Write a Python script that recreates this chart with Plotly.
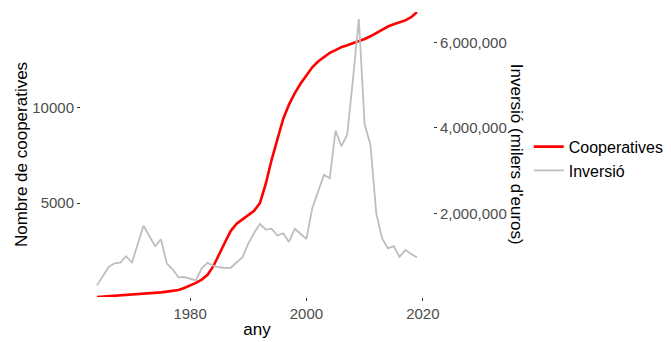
import plotly.graph_objects as go

years = list(range(1964, 2020))

cooperatives = [
    90, 110, 130, 150, 175, 200, 220, 240, 260, 280,
    300, 330, 370, 400, 460, 560, 680, 830, 1000, 1250,
    1700, 2350, 2950, 3550, 3920, 4150, 4380, 4600, 5000, 6000,
    7250, 8400, 9400, 10150, 10750, 11250, 11650, 12100, 12400, 12650,
    12850, 13000, 13150, 13250, 13350, 13450, 13580, 13720, 13900, 14080,
    14230, 14350, 14460, 14550, 14720, 14990,
]

inversio = [
    313000, 525000, 744000, 830000, 847000, 995000, 847000, 1280000, 1710000, 1470000,
    1230000, 1390000, 824000, 690000, 500000, 508000, 470000, 430000, 713000, 838000,
    772000, 737000, 720000, 725000, 854000, 965000, 1290000, 1540000, 1750000, 1620000,
    1640000, 1480000, 1530000, 1330000, 1640000, 1510000, 1400000, 2120000, 2520000, 2900000,
    2820000, 3940000, 3570000, 3840000, 5150000, 6550000, 4080000, 3610000, 2000000, 1410000,
    1180000, 1230000, 979000, 1140000, 1050000, 965000,
]

left_ticks = [5000, 10000]
right_ticks = [2000000, 4000000, 6000000]
sec_factor = 448

FONT = "Liberation Sans, Arial, sans-serif"
TICK_COLOR = "#4D4D4D"
TICK_SIZE = 15

fig = go.Figure()
fig.add_trace(go.Scatter(
    x=years, y=cooperatives, name="Cooperatives", mode="lines",
    line=dict(color="#FF0000", width=2.6), yaxis="y",
))
fig.add_trace(go.Scatter(
    x=years, y=inversio, name="Inversió", mode="lines",
    line=dict(color="#BEBEBE", width=1.8), yaxis="y2",
))

ymin, ymax = min(cooperatives), max(cooperatives)

fig.update_layout(
    width=671, height=342,
    margin=dict(l=81, r=238, t=12, b=45, autoexpand=False),
    paper_bgcolor="white", plot_bgcolor="white",
    font=dict(family=FONT, size=TICK_SIZE, color=TICK_COLOR),
    showlegend=True,
    legend=dict(
        x=1.272, y=0.485, xanchor="left", yanchor="middle",
        font=dict(family=FONT, size=16, color="black"),
        bgcolor="rgba(0,0,0,0)",
    ),
    xaxis=dict(
        range=[1961.25, 2021.75], tickvals=[1980, 2000, 2020],
        showgrid=False, zeroline=False, showline=False, automargin=False,
        ticks="outside", ticklen=3, tickcolor="#333333", tickwidth=1,
        tickfont=dict(family=FONT, size=TICK_SIZE, color=TICK_COLOR),
        title=dict(text="any", font=dict(family=FONT, size=17, color="black"), standoff=2),
    ),
    yaxis=dict(
        range=[ymin, ymax], tickvals=left_ticks, tickformat="d",
        showgrid=False, zeroline=False, showline=False, automargin=False,
        ticks="outside", ticklen=3, tickcolor="#333333", tickwidth=1,
        tickfont=dict(family=FONT, size=TICK_SIZE, color=TICK_COLOR),
        title=dict(text="Nombre de cooperatives", font=dict(family=FONT, size=17, color="black"), standoff=0),
    ),
    yaxis2=dict(
        range=[ymin * sec_factor, ymax * sec_factor], tickvals=right_ticks, tickformat=",d",
        overlaying="y", side="right", anchor="x", automargin=False,
        showgrid=False, zeroline=False, showline=False,
        ticks="outside", ticklen=3, tickcolor="#333333", tickwidth=1,
        tickfont=dict(family=FONT, size=TICK_SIZE, color=TICK_COLOR),
    ),
    annotations=[dict(
        text="Inversió (milers d'euros)", textangle=90,
        xref="paper", yref="paper", x=1.2378, y=0.5,
        xanchor="center", yanchor="middle", showarrow=False,
        font=dict(family=FONT, size=17, color="black"),
    )],
)

fig.write_html(
    "out.html",
    config={"displayModeBar": False},
    post_script="document.body.style.margin='0px';",
)
